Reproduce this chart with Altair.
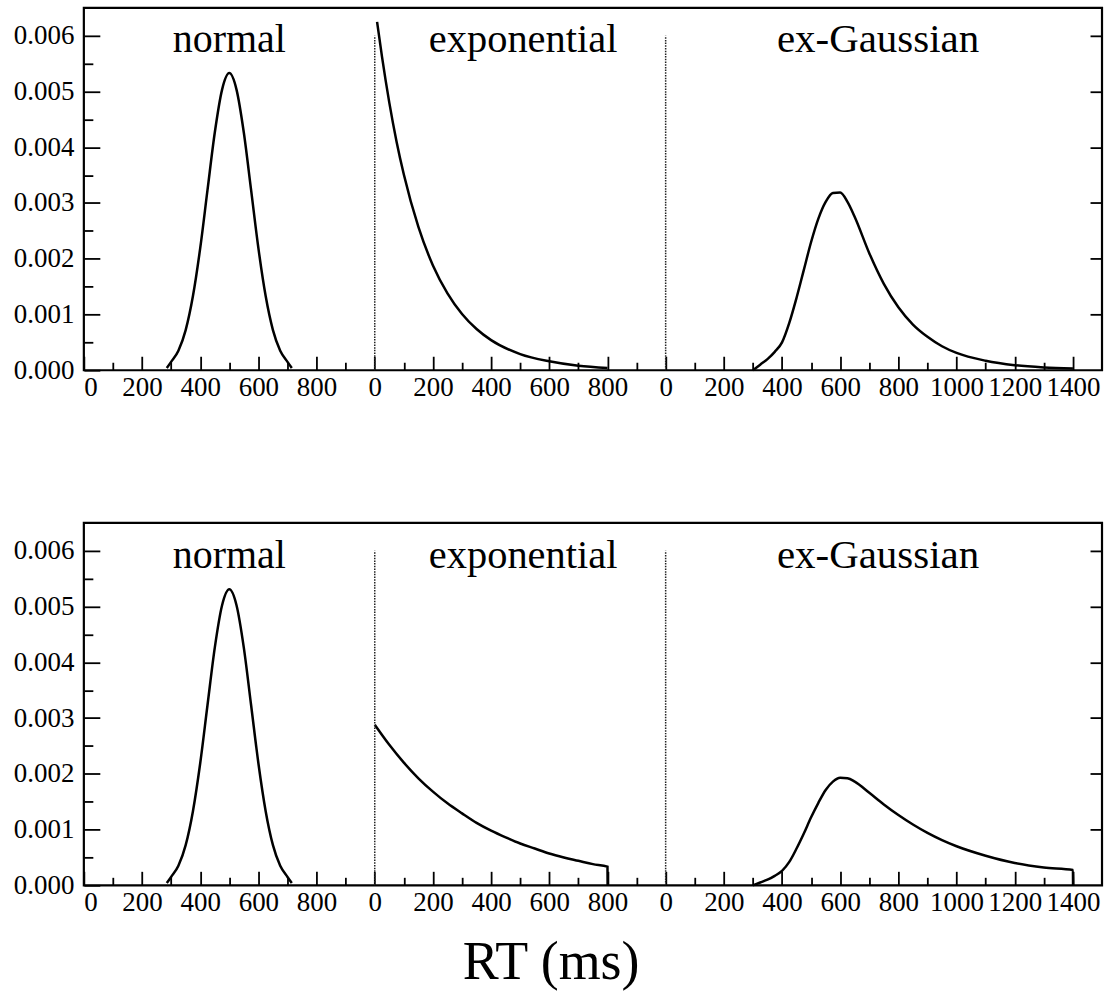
import altair as alt
import pandas as pd

SERIF = "Liberation Serif"

# ---- panel layout (data units along one shared x scale) ----
PANEL_NAMES = ["normal", "exponential", "ex-Gaussian"]
PANEL_OFFSETS = [0, 1000, 2000]
X_TOTAL = 3500
PANEL_TITLE_X = [500, 510, 730]          # local x of panel titles
PANEL_TITLE_SIZE = [40, 40.5, 41]
TITLE_Y = 0.0057
SEPARATOR_X = [1000, 2000]
SEPARATOR_TOP = 0.006

X_MAJOR = [[0, 200, 400, 600, 800],
           [0, 200, 400, 600, 800],
           [0, 200, 400, 600, 800, 1000, 1200, 1400]]
X_MINOR = [[100, 300, 500, 700, 900],
           [100, 300, 500, 700, 900],
           [100, 300, 500, 700, 900, 1100, 1300]]
Y_MAJOR = [0.000, 0.001, 0.002, 0.003, 0.004, 0.005, 0.006]
Y_MINOR = [0.0005, 0.0015, 0.0025, 0.0035, 0.0045, 0.0055]
RIGHT_TICKS = [0.001, 0.002, 0.003, 0.004, 0.005, 0.006]
Y_MAX = 0.0065

# ---- curves ----
NORMAL_X = [285, 300, 325, 350, 375, 400, 425, 450, 475, 500,
            525, 550, 575, 600, 625, 650, 675, 700, 715]
NORMAL_Y_TOP = [0.00004, 0.00015, 0.00035, 0.00072, 0.00133, 0.00219, 0.00323, 0.00426, 0.00503, 0.00533,
                0.00503, 0.00426, 0.00323, 0.00219, 0.00133, 0.00072, 0.00035, 0.00015, 0.00004]
NORMAL_Y_BOTTOM = [0.00004, 0.00015, 0.00035, 0.00072, 0.00133, 0.00219, 0.00323, 0.00426, 0.00502, 0.00531,
                   0.00502, 0.00426, 0.00323, 0.00219, 0.00133, 0.00072, 0.00035, 0.00015, 0.00004]

EXP_X_TOP = [8, 25, 50, 75, 100, 150, 200, 250, 300, 350, 400, 500, 600, 700, 800]
EXP_Y_TOP = [0.00625, 0.00562, 0.00480, 0.00410, 0.00351, 0.00257, 0.00188, 0.00138,
             0.00101, 0.00074, 0.00054, 0.00029, 0.00016, 0.00008, 0.00004]

EXP_X_BOTTOM = [0, 50, 100, 150, 200, 250, 300, 350, 400, 450, 500, 550, 600, 650, 700, 750, 800, 800.5]
EXP_Y_BOTTOM = [0.00288, 0.00252, 0.00220, 0.00192, 0.00168, 0.00147, 0.00129, 0.00112, 0.00098,
                0.00086, 0.00075, 0.00066, 0.00057, 0.00050, 0.00044, 0.00038, 0.000335, 0.0]

EXG_X_TOP = [300, 325, 350, 375, 400, 425, 450, 475, 500, 525, 550, 575, 600, 625, 650,
             700, 750, 800, 850, 900, 950, 1000, 1100, 1200, 1300, 1400]
EXG_Y_TOP = [0.0, 0.00010, 0.00020, 0.00033, 0.00050, 0.00085, 0.00130, 0.00180, 0.00230, 0.00272,
             0.00302, 0.00318, 0.00319, 0.00302, 0.00275, 0.00210, 0.00155, 0.00113, 0.00082,
             0.00060, 0.00043, 0.00031, 0.00017, 0.00009, 0.00005, 0.00003]

EXG_X_BOTTOM = [300, 325, 350, 375, 400, 425, 450, 475, 500, 525, 550, 575, 600, 625, 650,
                700, 750, 800, 850, 900, 950, 1000, 1100, 1200, 1300, 1400, 1400.5]
EXG_Y_BOTTOM = [0.0, 0.00005, 0.00010, 0.00017, 0.00026, 0.00042, 0.00066, 0.00093, 0.00122, 0.00148,
                0.00171, 0.00186, 0.00193, 0.00192, 0.00186, 0.00166, 0.00145, 0.00126, 0.00109,
                0.00094, 0.00081, 0.00070, 0.00053, 0.00040, 0.00032, 0.000275, 0.0]


def curve_frame(series):
    rows = []
    for name, off, (xs, ys) in zip(PANEL_NAMES, PANEL_OFFSETS, series):
        for i, (x, y) in enumerate(zip(xs, ys)):
            rows.append({"panel": name, "i": i, "x": x + off, "y": y})
    return pd.DataFrame(rows)


top_df = curve_frame([(NORMAL_X, NORMAL_Y_TOP), (EXP_X_TOP, EXP_Y_TOP), (EXG_X_TOP, EXG_Y_TOP)])
bottom_df = curve_frame([(NORMAL_X, NORMAL_Y_BOTTOM), (EXP_X_BOTTOM, EXP_Y_BOTTOM), (EXG_X_BOTTOM, EXG_Y_BOTTOM)])

sep_df = pd.DataFrame({"x": SEPARATOR_X, "y0": [0.0] * len(SEPARATOR_X), "y1": [SEPARATOR_TOP] * len(SEPARATOR_X)})
title_df = pd.DataFrame({"panel": PANEL_NAMES,
                         "x": [o + t for o, t in zip(PANEL_OFFSETS, PANEL_TITLE_X)],
                         "y": [TITLE_Y] * 3,
                         "size": PANEL_TITLE_SIZE})

major_x = [o + v for o, vals in zip(PANEL_OFFSETS, X_MAJOR) for v in vals]
minor_x = [o + v for o, vals in zip(PANEL_OFFSETS, X_MINOR) for v in vals]

label_expr = (
    f"datum.value >= {PANEL_OFFSETS[2]} ? '' + (datum.value - {PANEL_OFFSETS[2]}) : "
    f"datum.value >= {PANEL_OFFSETS[1]} ? '' + (datum.value - {PANEL_OFFSETS[1]}) : '' + datum.value"
)

x_scale = alt.Scale(domain=[0, X_TOTAL], nice=False, zero=False)
y_scale = alt.Scale(domain=[0, Y_MAX], nice=False)


def row_chart(df):
    lines = alt.Chart(df).mark_line(color="black", strokeWidth=2.5, interpolate="monotone").encode(
        x=alt.X("x:Q", scale=x_scale, title=None,
                axis=alt.Axis(values=major_x, labelExpr=label_expr, orient="bottom",
                              tickSize=14, offset=-14, domain=False, grid=False,
                              tickColor="black", tickWidth=1.8,
                              labelFont=SERIF, labelFontSize=27, labelColor="black",
                              labelPadding=4, labelOverlap=False)),
        y=alt.Y("y:Q", scale=y_scale, title=None,
                axis=alt.Axis(values=Y_MAJOR, format=".3f", orient="left",
                              tickSize=16, offset=-16, domain=False, grid=False,
                              tickColor="black", tickWidth=1.8,
                              labelFont=SERIF, labelFontSize=27, labelColor="black",
                              labelPadding=10, labelOverlap=False)),
        detail="panel:N",
        order="i:Q",
    )
    seps = alt.Chart(sep_df).mark_rule(color="#222222", strokeDash=[1.5, 1.2], strokeWidth=1.5).encode(
        x=alt.X("x:Q", scale=x_scale, title=None,
                axis=alt.Axis(values=minor_x, labels=False, orient="bottom",
                              tickSize=8, offset=-8, domain=False, grid=False,
                              tickColor="black", tickWidth=1.8)),
        y=alt.Y("y0:Q", scale=y_scale, title=None,
                axis=alt.Axis(values=Y_MINOR, labels=False, orient="left",
                              tickSize=9, offset=-9, domain=False, grid=False,
                              tickColor="black", tickWidth=1.8)),
        y2="y1:Q",
    )
    titles = alt.Chart(title_df).mark_text(font=SERIF, baseline="alphabetic",
                                           color="black").encode(
        x=alt.X("x:Q", scale=x_scale, axis=None),
        y=alt.Y("y:Q", scale=y_scale, title=None,
                axis=alt.Axis(values=RIGHT_TICKS, labels=False, orient="right",
                              tickSize=12, offset=-12, domain=False, grid=False,
                              tickColor="black", tickWidth=1.8)),
        text="panel:N",
        size=alt.Size("size:Q", scale=None, legend=None),
    )
    return alt.layer(lines, seps, titles).resolve_axis(x="independent", y="independent").properties(
        width=1020, height=363)


chart = alt.vconcat(row_chart(top_df), row_chart(bottom_df), spacing=119).properties(
    title=alt.TitleParams(text="RT (ms)", orient="bottom", anchor="middle", font=SERIF,
                          fontSize=54, fontWeight="normal", color="black", offset=20, dx=-7),
    padding={"left": 12, "top": 5, "right": 4, "bottom": 4},
    background="white",
).configure_view(stroke="black", strokeWidth=2.2)

chart.save("out.html", embed_options={"renderer": "svg", "actions": False})
